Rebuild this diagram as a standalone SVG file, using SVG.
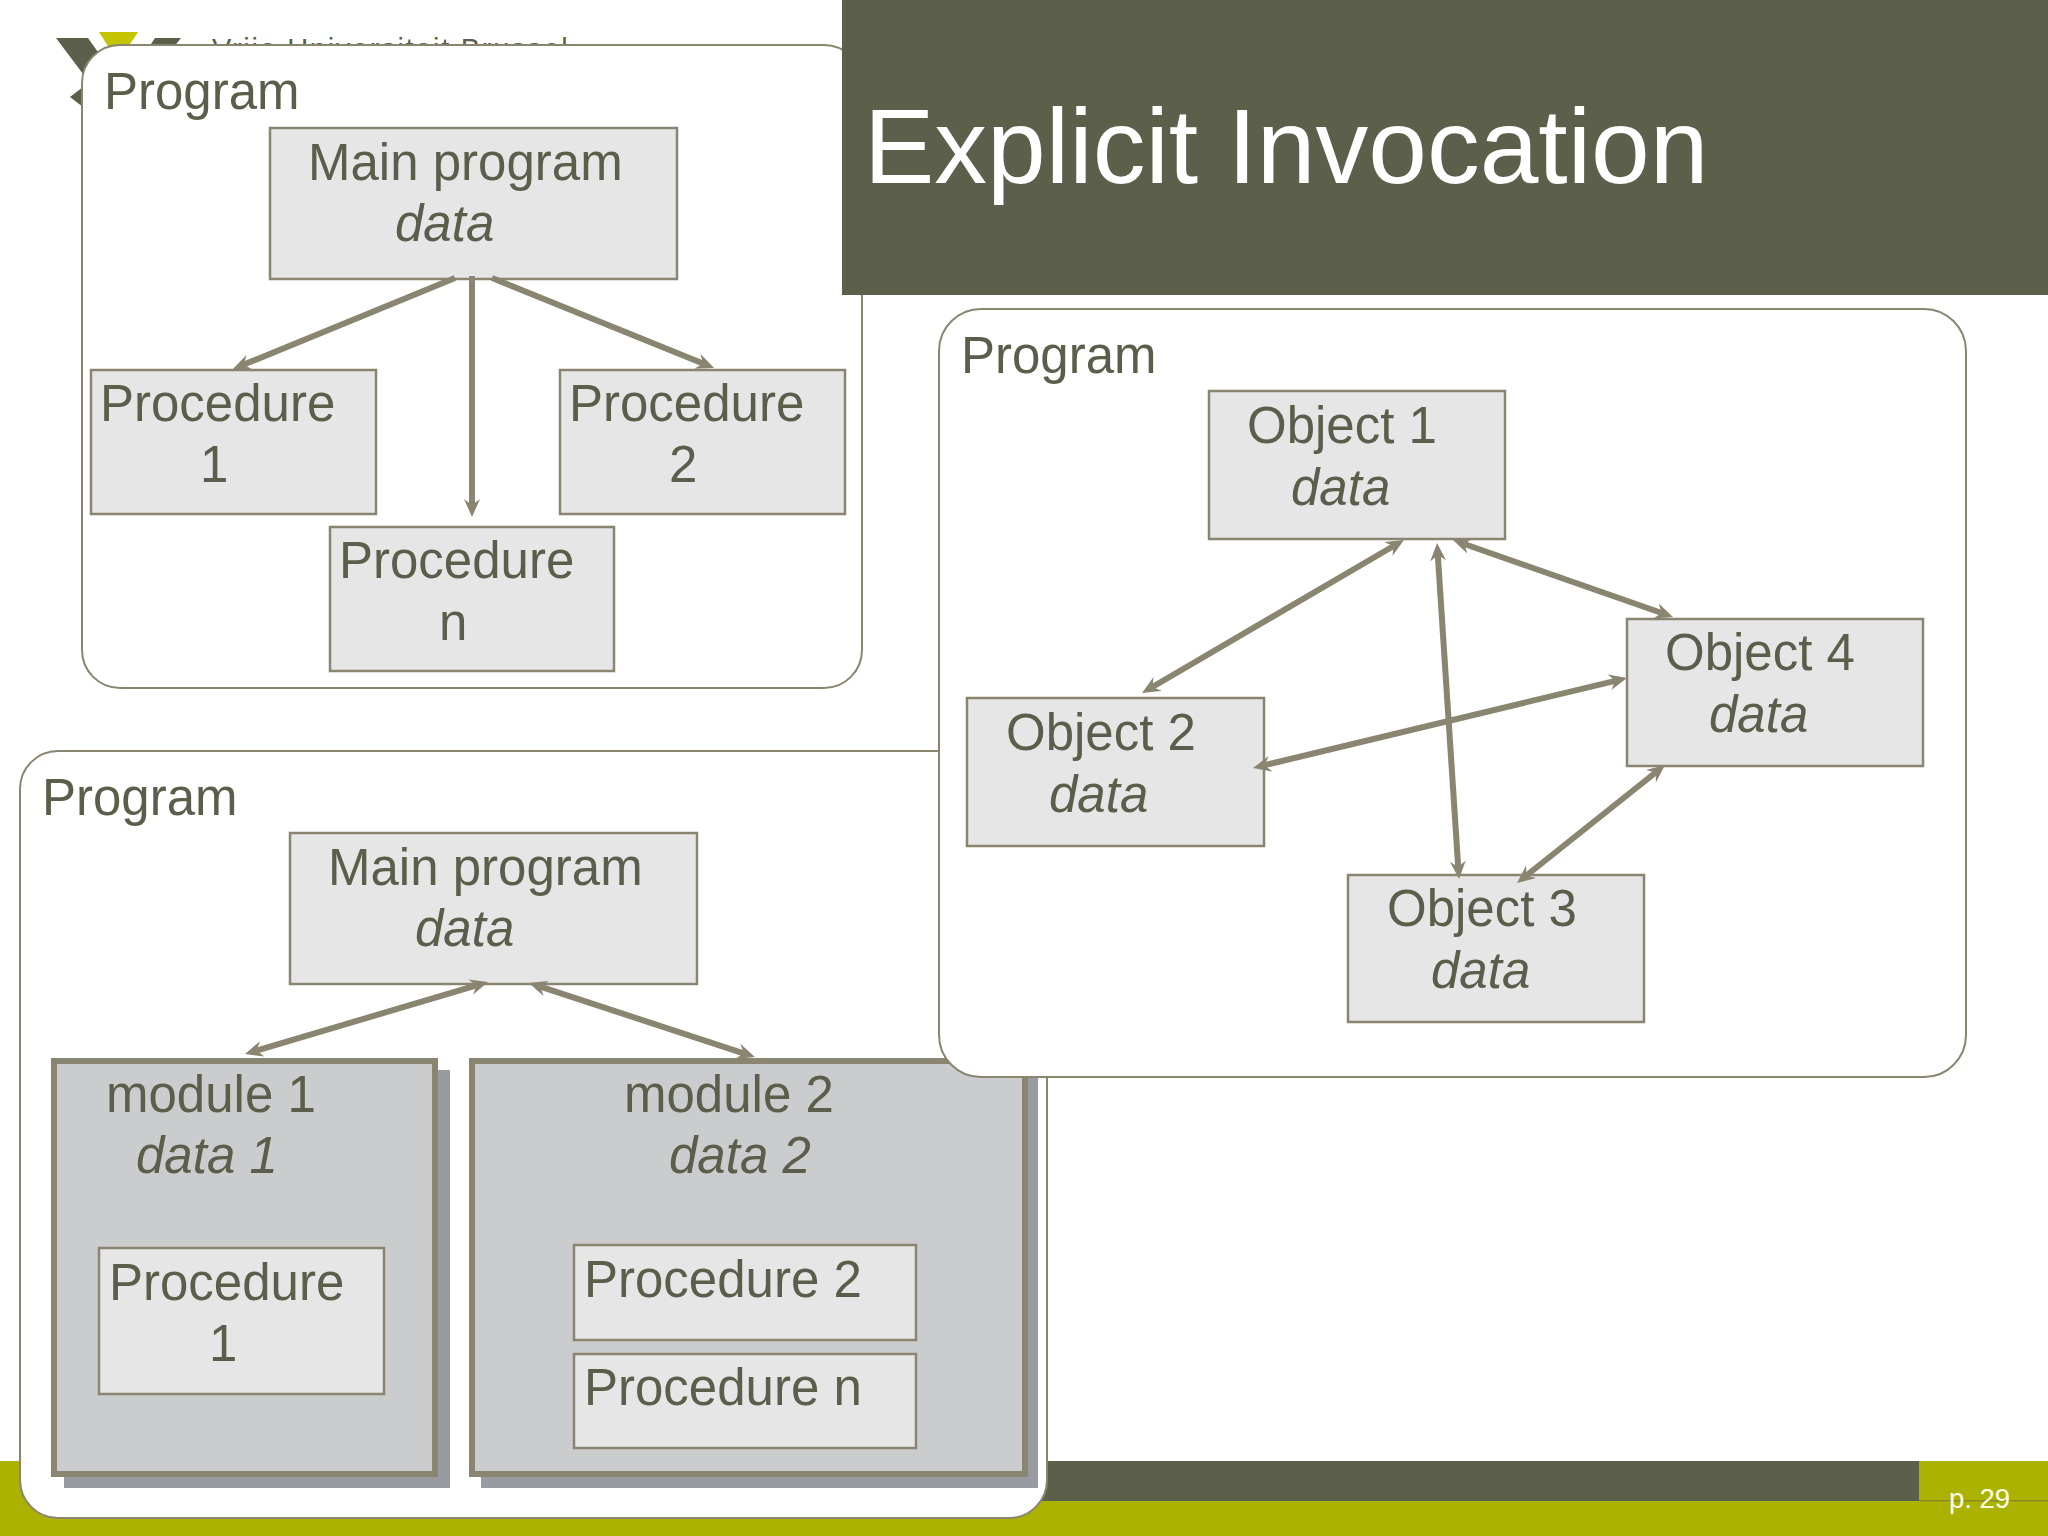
<svg xmlns="http://www.w3.org/2000/svg" width="2048" height="1536" viewBox="0 0 2048 1536">
<defs>
<marker id="head" viewBox="0 0 18 16" markerUnits="userSpaceOnUse" markerWidth="18" markerHeight="16" refX="6" refY="8" orient="auto-start-reverse"><path d="M0 0L18 8L0 16L6 8Z" fill="#8a8570"/></marker>
<clipPath id="logoClip"><rect x="0" y="0" width="842" height="46"/></clipPath>
</defs>
<style>
text{font-family:"Liberation Sans",Arial,sans-serif;fill:#5b5e4a;font-size:51px}
.i{font-style:italic}
.panel{fill:#fff;stroke:#8a8570;stroke-width:2}
.box{fill:#e6e6e7;stroke:#8a8570;stroke-width:2.5}
.mod{fill:#cbcccd;stroke:#8a8570;stroke-width:6}
.shadow{fill:#9a9aa2}
.conn{stroke:#8a8570;stroke-width:6;fill:none}
</style>
<rect width="2048" height="1536" fill="#fff"/>
<g id="footer">
<rect x="0" y="1461" width="2048" height="75" fill="#acb200"/>
<rect x="400" y="1461" width="1519" height="40" fill="#5c5f4a"/>
<rect x="1919" y="1500" width="129" height="1.5" fill="#8a8a20"/>
</g>
<g id="logo">
<path d="M56 38H88L125 90H95Z" fill="#5c5f4a"/>
<path d="M155 38H181L140 90H120Z" fill="#5c5f4a"/>
<path d="M99 32H138L118 62Z" fill="#c4c400"/>
<path d="M83 87L70 97L83 107Z" fill="#5c5f4a"/>
<text x="212" y="59" clip-path="url(#logoClip)" style="font-size:29px;letter-spacing:1.7px">Vrije Universiteit Brussel</text>
</g>
<g id="panel-1">
<rect class="panel" x="82" y="45" width="780" height="643" rx="38"/>
<text x="104" y="109">Program</text>
</g>
<g id="p1-main"><rect class="box" x="270" y="128" width="407" height="151"/><text x="308" y="180">Main program</text><text class="i" x="395" y="241">data</text></g>
<g id="p1-proc1"><rect class="box" x="91" y="370" width="285" height="144"/><text x="100" y="421">Procedure</text><text x="200" y="482">1</text></g>
<g id="p1-proc2"><rect class="box" x="560" y="370" width="285" height="144"/><text x="569" y="421">Procedure</text><text x="669" y="482">2</text></g>
<g id="p1-procn"><rect class="box" x="330" y="527" width="284" height="144"/><text x="339" y="578">Procedure</text><text x="439" y="640">n</text></g>
<g id="panel-2">
<rect class="panel" x="20" y="751" width="1027" height="767" rx="38"/>
<text x="42" y="815">Program</text>
</g>
<g id="p2-main"><rect class="box" x="290" y="833" width="407" height="151"/><text x="328" y="885">Main program</text><text class="i" x="415" y="946">data</text></g>
<g id="module-1">
<rect class="shadow" x="64" y="1070" width="386" height="418"/>
<rect class="mod" x="54" y="1061" width="381" height="413"/>
<text x="106" y="1112">module 1</text><text class="i" x="136" y="1173">data 1</text>
</g>
<g id="m1-proc1"><rect class="box" x="99" y="1248" width="285" height="146"/><text x="109" y="1300">Procedure</text><text x="209" y="1361">1</text></g>
<g id="module-2">
<rect class="shadow" x="481" y="1070" width="557" height="418"/>
<rect class="mod" x="472" y="1061" width="553" height="413"/>
<text x="624" y="1112">module 2</text><text class="i" x="669" y="1173">data 2</text>
</g>
<g id="m2-proc2"><rect class="box" x="574" y="1245" width="342" height="95"/><text x="584" y="1297">Procedure 2</text></g>
<g id="m2-procn"><rect class="box" x="574" y="1354" width="342" height="94"/><text x="584" y="1405">Procedure n</text></g>
<g id="title-band">
<rect x="842" y="0" width="1206" height="295" fill="#5c5f4a"/>
<text x="864" y="183" style="fill:#fff;font-size:105.5px">Explicit Invocation</text>
</g>
<g id="panel-3">
<rect class="panel" x="939" y="309" width="1027" height="768" rx="42"/>
<text x="961" y="373">Program</text>
</g>
<g id="object-1"><rect class="box" x="1209" y="391" width="296" height="148"/><text x="1247" y="443">Object 1</text><text class="i" x="1291" y="505">data</text></g>
<g id="object-2"><rect class="box" x="967" y="698" width="297" height="148"/><text x="1006" y="750">Object 2</text><text class="i" x="1049" y="812">data</text></g>
<g id="object-3"><rect class="box" x="1348" y="875" width="296" height="147"/><text x="1387" y="926">Object 3</text><text class="i" x="1431" y="988">data</text></g>
<g id="object-4"><rect class="box" x="1627" y="619" width="296" height="147"/><text x="1665" y="670">Object 4</text><text class="i" x="1709" y="732">data</text></g>
<g id="connectors">
<line class="conn" x1="455" y1="278" x2="244" y2="364.5" marker-end="url(#head)"/>
<line class="conn" x1="472" y1="276" x2="472" y2="505" marker-end="url(#head)"/>
<line class="conn" x1="492" y1="278" x2="703" y2="363.5" marker-end="url(#head)"/>
<line class="conn" x1="476.5" y1="985.4" x2="256.5" y2="1050.6" marker-start="url(#head)" marker-end="url(#head)"/>
<line class="conn" x1="540.4" y1="986.7" x2="743.6" y2="1053.3" marker-start="url(#head)" marker-end="url(#head)"/>
<line class="conn" x1="1393.6" y1="546" x2="1152.4" y2="687" marker-start="url(#head)" marker-end="url(#head)"/>
<line class="conn" x1="1437.8" y1="555" x2="1458.2" y2="867" marker-start="url(#head)" marker-end="url(#head)"/>
<line class="conn" x1="1464.3" y1="544" x2="1661.7" y2="613" marker-start="url(#head)" marker-end="url(#head)"/>
<line class="conn" x1="1264.7" y1="765.2" x2="1615.3" y2="680.8" marker-start="url(#head)" marker-end="url(#head)"/>
<line class="conn" x1="1526.4" y1="875.5" x2="1655.6" y2="772.5" marker-start="url(#head)" marker-end="url(#head)"/>
</g>
<g id="page-number"><text x="1949" y="1508" style="fill:#fffde8;font-size:27.5px">p. 29</text></g>
</svg>
